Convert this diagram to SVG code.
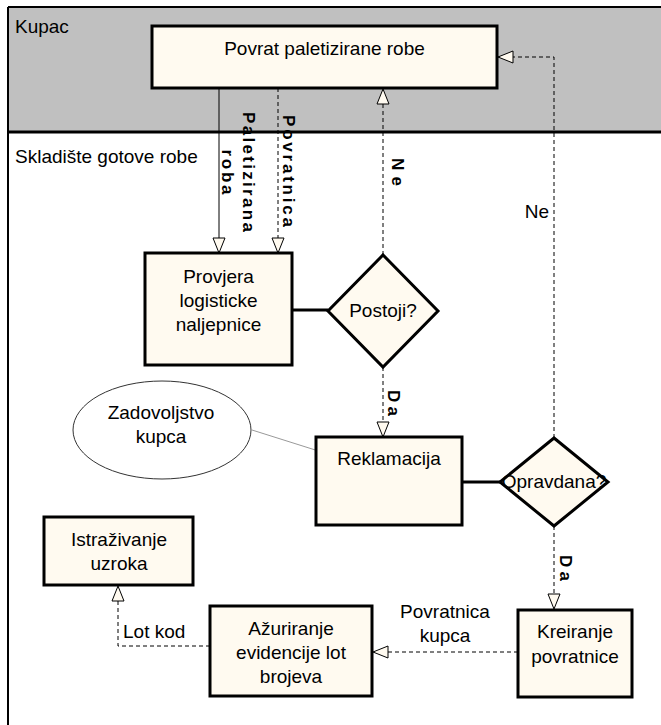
<svg xmlns="http://www.w3.org/2000/svg" width="661" height="725" viewBox="0 0 661 725">
<style>
  text { font-family: "Liberation Sans", Arial, sans-serif; font-size: 19px; fill: #000; }
  .c { text-anchor: middle; }
  .rot { font-size: 17px; font-weight: bold; text-anchor: middle; }
  .node { fill: #fffaf0; stroke: #000; stroke-width: 3; }
  .ln { fill: none; stroke: #000; stroke-width: 1; }
  .dash { fill: none; stroke: #000; stroke-width: 1; stroke-dasharray: 4 3; }
  .thick { fill: none; stroke: #000; stroke-width: 3; }
</style>
<defs>
  <marker id="arr" viewBox="-16 -7 17 14" markerWidth="17" markerHeight="14" refX="0" refY="0" orient="auto" markerUnits="userSpaceOnUse" overflow="visible">
    <path d="M0,0 L-15,-6 L-15,6 Z" fill="#fffaf0" stroke="#000" stroke-width="1"/>
  </marker>
</defs>
<rect x="0" y="0" width="661" height="725" fill="#fff"/>
<g id="lanes">
  <rect x="8" y="7" width="660" height="125" fill="#c0c0c0"/>
  <line x1="8" y1="7" x2="661" y2="7" stroke="#000" stroke-width="2"/>
  <line x1="8" y1="7" x2="8" y2="725" stroke="#000" stroke-width="2"/>
  <line x1="8" y1="132" x2="661" y2="132" stroke="#000" stroke-width="3"/>
  <text x="15" y="33">Kupac</text>
  <text x="15" y="163">Skladište gotove robe</text>
</g>
<g id="connectors">
  <path class="ln" d="M219,88 L219,253" marker-end="url(#arr)"/>
  <path class="dash" d="M278,88 L278,253" marker-end="url(#arr)"/>
  <path class="dash" d="M383,255 L383,89" marker-end="url(#arr)"/>
  <path class="dash" d="M383,367 L383,437" marker-end="url(#arr)"/>
  <path class="dash" d="M554,438 L554,57 L498,57" marker-end="url(#arr)"/>
  <path class="dash" d="M554,526 L554,609" marker-end="url(#arr)"/>
  <path class="dash" d="M518,652 L373,652" marker-end="url(#arr)"/>
  <path class="dash" d="M210,646 L118,646 L118,586" marker-end="url(#arr)"/>
  <path class="thick" d="M292,310 L328,310"/>
  <path class="thick" d="M462,482 L500,482"/>
  <path d="M252,430 L328,454" fill="none" stroke="#999" stroke-width="1"/>
  <text class="rot" transform="translate(243,172) rotate(90)" textLength="120" lengthAdjust="spacing">Paletizirana</text>
  <text class="rot" transform="translate(222,172) rotate(90)" textLength="45" lengthAdjust="spacing">roba</text>
  <text class="rot" transform="translate(283,171) rotate(90)" textLength="112" lengthAdjust="spacing">Povratnica</text>
  <text class="rot" transform="translate(392,172) rotate(90)" textLength="28" lengthAdjust="spacing">Ne</text>
  <text class="rot" transform="translate(388,403) rotate(90)" textLength="26" lengthAdjust="spacing">Da</text>
  <text class="rot" transform="translate(560,568) rotate(90)" textLength="26" lengthAdjust="spacing">Da</text>
  <text x="549" y="218" text-anchor="end">Ne</text>
  <text class="c" x="445" y="618">Povratnica</text>
  <text class="c" x="445" y="642">kupca</text>
  <text x="123" y="638">Lot kod</text>
</g>
<g id="povrat">
  <rect class="node" x="152" y="26" width="345" height="62"/>
  <text class="c" x="324.5" y="55">Povrat paletizirane robe</text>
</g>
<g id="provjera">
  <rect class="node" x="145" y="253" width="147" height="112"/>
  <text class="c" x="218.5" y="283">Provjera</text>
  <text class="c" x="218.5" y="307">logisticke</text>
  <text class="c" x="218.5" y="331">naljepnice</text>
</g>
<g id="postoji">
  <polygon class="node" points="383,255 438,311 383,367 328,311"/>
  <text class="c" x="383" y="317">Postoji?</text>
</g>
<g id="zadovoljstvo">
  <ellipse cx="162" cy="430" rx="89" ry="49" fill="#fff" stroke="#333" stroke-width="1"/>
  <text class="c" x="161" y="419">Zadovoljstvo</text>
  <text class="c" x="161" y="443">kupca</text>
</g>
<g id="reklamacija">
  <rect class="node" x="316" y="437" width="146" height="88"/>
  <text class="c" x="389" y="465">Reklamacija</text>
</g>
<g id="opravdana">
  <polygon class="node" points="554,438 608,482 554,526 500,482"/>
  <text class="c" x="554" y="488">Opravdana?</text>
</g>
<g id="istrazivanje">
  <rect class="node" x="44" y="517" width="149" height="68"/>
  <text class="c" x="119" y="546">Istraživanje</text>
  <text class="c" x="119" y="570">uzroka</text>
</g>
<g id="azuriranje">
  <rect class="node" x="210" y="606" width="162" height="90"/>
  <text class="c" x="291" y="635">Ažuriranje</text>
  <text class="c" x="291" y="659">evidencije lot</text>
  <text class="c" x="291" y="683">brojeva</text>
</g>
<g id="kreiranje">
  <rect class="node" x="518" y="610" width="114" height="87"/>
  <text class="c" x="575" y="638">Kreiranje</text>
  <text class="c" x="575" y="663">povratnice</text>
</g>
</svg>
